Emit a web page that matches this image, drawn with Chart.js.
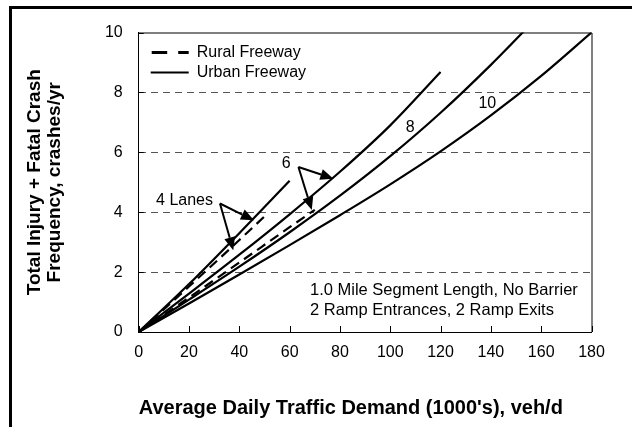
<!DOCTYPE html>
<html>
<head>
<meta charset="utf-8">
<script src="https://cdn.jsdelivr.net/npm/chart.js@4/dist/chart.umd.min.js"></script>
<style>
  html, body { margin: 0; padding: 0; background: #fff; }
  canvas { display: block; }
</style>
</head>
<body>
<canvas id="crash-chart" width="632" height="427"></canvas>
<script>
// values (ADT in 1000's veh/d, crashes/yr)
const adt = [0, 20, 40, 60, 80, 100, 120, 140, 160, 180];
const urban4 = [0, 1.6, 3.3, 5.05];
const urban6 = [0, 1.28, 2.58, 3.93, 5.35, 6.9, 8.68];
const urban8 = [0, 1.08, 2.18, 3.33, 4.55, 5.87, 7.32, 8.92, 10.64];
const urban10 = [0, 0.95, 1.92, 2.9, 3.9, 4.93, 6.03, 7.23, 8.55, 10];
const rural4Adt = [0, 20, 40, 50];
const rural4 = [0, 1.52, 3.07, 3.86];
const rural6Adt = [0, 20, 40, 60, 70];
const rural6 = [0, 1.15, 2.32, 3.5, 4.08];

const xTicks = [0, 20, 40, 60, 80, 100, 120, 140, 160, 180];
const yTicks = [0, 2, 4, 6, 8, 10];

const legendItems = ['Rural Freeway', 'Urban Freeway'];
const noteLines = ['1.0 Mile Segment Length, No Barrier', '2 Ramp Entrances, 2 Ramp Exits'];

// lane labels and pointer arrows, in data units
const laneLabels = [
  { text: '4 Lanes', x: 6.9, y: 4.4, align: 'left' },
  { text: '6', x: 58.6, y: 5.62, align: 'center' },
  { text: '8', x: 107.9, y: 6.84, align: 'center' },
  { text: '10', x: 138.6, y: 7.62, align: 'center' }
];
const arrows = [
  { from: [32.3, 4.29], to: [45.8, 3.73] },
  { from: [32.3, 4.29], to: [37.6, 2.73] },
  { from: [63.5, 5.51], to: [77.4, 5.12] },
  { from: [63.5, 5.51], to: [68.8, 4.07] }
];

const FONT = "'Liberation Sans', Arial, sans-serif";

function pts(xs, ys) {
  return ys.map((y, i) => ({ x: xs[i], y: y }));
}

function curve(label, data, dashed) {
  return {
    label: label,
    data: data,
    showLine: true,
    borderColor: '#000',
    backgroundColor: '#000',
    borderWidth: 2.2,
    borderDash: dashed ? [10, 6] : [],
    pointRadius: 0,
    cubicInterpolationMode: 'monotone',
    fill: false
  };
}

function drawArrow(ctx, x1, y1, x2, y2) {
  const a = Math.atan2(y2 - y1, x2 - x1);
  const head = 13, half = 5.5;
  const bx = x2 - head * Math.cos(a), by = y2 - head * Math.sin(a);
  ctx.beginPath();
  ctx.moveTo(x1, y1);
  ctx.lineTo(bx, by);
  ctx.stroke();
  ctx.beginPath();
  ctx.moveTo(x2, y2);
  ctx.lineTo(bx + half * Math.sin(a), by - half * Math.cos(a));
  ctx.lineTo(bx - half * Math.sin(a), by + half * Math.cos(a));
  ctx.closePath();
  ctx.fill();
}

const decorations = {
  id: 'decorations',
  beforeDraw(chart) {
    const ctx = chart.ctx;
    ctx.save();
    ctx.fillStyle = '#fff';
    ctx.fillRect(0, 0, chart.width, chart.height);
    // outer frame: left and top only
    ctx.fillStyle = '#000';
    ctx.fillRect(9, 6, 3, chart.height - 6);
    ctx.fillRect(9, 6, chart.width - 9, 3);
    ctx.restore();
  },
  afterDatasetsDraw(chart) {
    const ctx = chart.ctx;
    const area = chart.chartArea;
    const xs = chart.scales.x, ys = chart.scales.y;
    ctx.save();

    // plot frame top and right
    ctx.strokeStyle = '#000';
    ctx.lineWidth = 1;
    ctx.beginPath();
    ctx.moveTo(area.left, area.top + 0.5);
    ctx.lineTo(area.right + 0.5, area.top + 0.5);
    ctx.lineTo(area.right + 0.5, area.bottom);
    ctx.stroke();

    // inside tick marks
    ctx.beginPath();
    xTicks.forEach(v => {
      const px = Math.round(xs.getPixelForValue(v)) + 0.5;
      ctx.moveTo(px, area.bottom);
      ctx.lineTo(px, area.bottom - 6);
    });
    yTicks.forEach(v => {
      const py = Math.round(ys.getPixelForValue(v)) + 0.5;
      ctx.moveTo(area.left, py);
      ctx.lineTo(area.left + 5, py);
    });
    ctx.stroke();

    // legend inside plot
    ctx.fillStyle = '#000';
    ctx.font = '16px ' + FONT;
    ctx.textBaseline = 'middle';
    ctx.textAlign = 'left';
    ctx.lineWidth = 3;
    ctx.setLineDash([15.5, 11]);
    ctx.beginPath();
    ctx.moveTo(area.left + 13, area.top + 20);
    ctx.lineTo(area.left + 50, area.top + 20);
    ctx.stroke();
    ctx.setLineDash([]);
    ctx.lineWidth = 2;
    ctx.beginPath();
    ctx.moveTo(area.left + 12, area.top + 40);
    ctx.lineTo(area.left + 50, area.top + 40);
    ctx.stroke();
    ctx.fillText(legendItems[0], area.left + 58, area.top + 20);
    ctx.fillText(legendItems[1], area.left + 58, area.top + 40);

    // lane labels
    laneLabels.forEach(l => {
      ctx.textAlign = l.align;
      ctx.fillText(l.text, xs.getPixelForValue(l.x), ys.getPixelForValue(l.y));
    });

    // arrows
    ctx.lineWidth = 2;
    arrows.forEach(a => {
      drawArrow(ctx,
        xs.getPixelForValue(a.from[0]), ys.getPixelForValue(a.from[1]),
        xs.getPixelForValue(a.to[0]), ys.getPixelForValue(a.to[1]));
    });

    // note text
    ctx.font = '16.5px ' + FONT;
    ctx.textAlign = 'left';
    ctx.fillText(noteLines[0], xs.getPixelForValue(68.1), ys.getPixelForValue(1.38));
    ctx.fillText(noteLines[1], xs.getPixelForValue(68.1), ys.getPixelForValue(0.73));

    ctx.restore();
  }
};

new Chart(document.getElementById('crash-chart').getContext('2d'), {
  type: 'scatter',
  data: {
    datasets: [
      curve('4 Lanes Urban', pts(adt, urban4), false),
      curve('6 Lanes Urban', pts(adt, urban6), false),
      curve('8 Lanes Urban', pts(adt, urban8), false),
      curve('10 Lanes Urban', pts(adt, urban10), false),
      curve('4 Lanes Rural', pts(rural4Adt, rural4), true),
      curve('6 Lanes Rural', pts(rural6Adt, rural6), true)
    ]
  },
  options: {
    responsive: false,
    animation: false,
    devicePixelRatio: 1,
    layout: { padding: { left: 15, right: 40.5, top: 32.5, bottom: 0 } },
    plugins: {
      legend: { display: false },
      tooltip: { enabled: false }
    },
    scales: {
      x: {
        type: 'linear',
        min: 0,
        max: 180,
        afterFit: s => { s.height = 95; },
        afterBuildTicks: s => { s.ticks = xTicks.map(v => ({ value: v })); },
        grid: { display: false, drawTicks: false },
        border: { display: true, color: '#000', width: 1 },
        ticks: {
          color: '#000',
          padding: 11,
          maxRotation: 0,
          autoSkip: false,
          font: { family: FONT, size: 16 }
        },
        title: {
          display: true,
          text: "Average Daily Traffic Demand (1000's), veh/d",
          align: 'start',
          color: '#000',
          padding: { top: 0, bottom: 7 },
          font: { family: FONT, size: 20, weight: 'bold' }
        }
      },
      y: {
        type: 'linear',
        min: 0,
        max: 10,
        afterFit: s => { s.width = 123.7; },
        afterBuildTicks: s => { s.ticks = yTicks.map(v => ({ value: v })); },
        grid: {
          drawTicks: false,
          lineWidth: 1,
          color: c => (c.tick && c.tick.value > 0 && c.tick.value < 10) ? '#555' : 'rgba(0,0,0,0)'
        },
        border: { display: true, color: '#000', width: 1, dash: [7, 5] },
        ticks: {
          color: '#000',
          padding: 16,
          font: { family: FONT, size: 16 }
        },
        title: {
          display: true,
          text: ['Total Injury + Fatal Crash', 'Frequency, crashes/yr'],
          color: '#000',
          padding: { top: 10, bottom: 0 },
          font: { family: FONT, size: 19, weight: 'bold', lineHeight: 1.05 }
        }
      }
    }
  },
  plugins: [decorations]
});
</script>
</body>
</html>
